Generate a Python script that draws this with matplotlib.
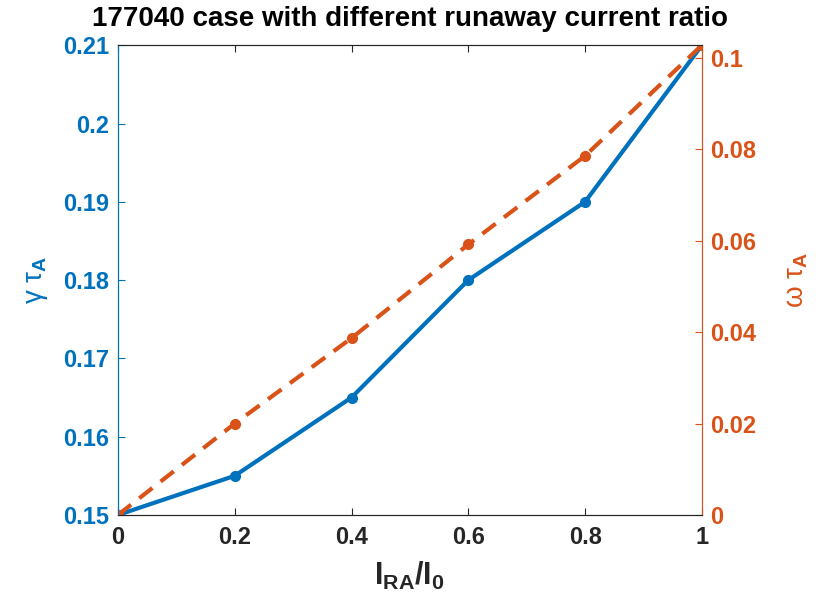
import matplotlib.pyplot as plt

plt.rcParams['font.family'] = ['Liberation Sans', 'DejaVu Sans']
plt.rcParams['mathtext.fontset'] = 'custom'
plt.rcParams['mathtext.rm'] = 'Liberation Sans'
plt.rcParams['mathtext.it'] = 'Liberation Sans:italic'
plt.rcParams['mathtext.bf'] = 'Liberation Sans:bold'

# runaway current ratio I_RA / I_0
ratio = [0, 0.2, 0.4, 0.6, 0.8, 1.0]

# growth rate gamma * tau_A (left axis)
growth = [0.150, 0.155, 0.165, 0.180, 0.190, 0.210]

# real frequency omega * tau_A (right axis)
freq = [0.0, 0.0200, 0.0387, 0.0592, 0.0786, 0.1028]

xticks = [0, 0.2, 0.4, 0.6, 0.8, 1.0]
xtick_labels = ['0', '0.2', '0.4', '0.6', '0.8', '1']
left_ticks = [0.15, 0.16, 0.17, 0.18, 0.19, 0.20, 0.21]
left_labels = ['0.15', '0.16', '0.17', '0.18', '0.19', '0.2', '0.21']
right_ticks = [0, 0.02, 0.04, 0.06, 0.08, 0.10]
right_labels = ['0', '0.02', '0.04', '0.06', '0.08', '0.1']

blue = '#0072BD'
orange = '#D95319'
dark = '#262626'

fig = plt.figure(figsize=(8.19, 6.03), dpi=100)
ax = fig.add_axes([0.144, 0.146, 0.713, 0.779])
ax2 = ax.twinx()

ax.plot(ratio, growth, color=blue, linewidth=3, marker='o', markersize=7)
ax2.plot(ratio, freq, color=orange, linewidth=3, linestyle='--', dashes=(4, 2.5),
         marker='o', markersize=7)

ax.set_xlim(0, 1)
ax.set_ylim(0.15, 0.21)
ax2.set_ylim(0, 0.1028)

ax.set_xticks(xticks)
ax.set_xticklabels(xtick_labels, fontsize=17, fontweight='bold', color=dark)
ax.set_yticks(left_ticks)
ax.set_yticklabels(left_labels, fontsize=17, fontweight='bold', color=blue)
ax2.set_yticks(right_ticks)
ax2.set_yticklabels(right_labels, fontsize=17, fontweight='bold', color=orange)

ax.tick_params(axis='x', direction='in', top=True, length=5, width=0.8, colors=dark, pad=8)
ax.tick_params(axis='y', direction='in', length=5, width=0.8, colors=blue, pad=6)
ax2.tick_params(axis='y', direction='in', length=5, width=0.8, colors=orange, pad=6)

for a in (ax, ax2):
    a.spines['top'].set_color(dark)
    a.spines['bottom'].set_color(dark)
    a.spines['left'].set_color(blue)
    a.spines['right'].set_color(orange)
    for s in a.spines.values():
        s.set_linewidth(0.8)

ax.set_xlabel(r'$\mathbf{I}_{\mathbf{RA}}\mathbf{/I}_{\mathbf{0}}$', fontsize=22, color=dark, labelpad=8)
ax.set_ylabel(r'$\mathrm{\gamma}\ \mathrm{\tau}_{\mathbf{A}}$', fontsize=20, color=blue, labelpad=10)
ax2.set_ylabel(r'$\mathrm{\omega}\ \mathrm{\tau}_{\mathbf{A}}$', fontsize=20, color=orange,
               rotation=90, labelpad=20)

ax.set_title('177040 case with different runaway current ratio', fontsize=20,
             fontweight='bold', color='black', pad=14)

plt.savefig('out.png', dpi=100)
